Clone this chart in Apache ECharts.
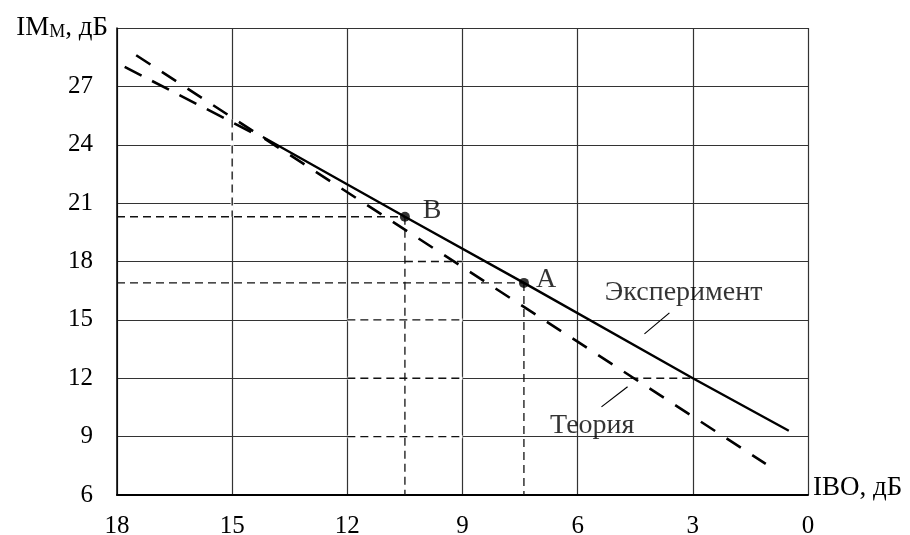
<!DOCTYPE html>
<html><head><meta charset="utf-8">
<script src="https://cdn.jsdelivr.net/npm/echarts/dist/echarts.min.js"></script>
<style>html,body{margin:0;padding:0;background:#fff}#c{width:910px;height:535px}</style>
</head><body><div id="c"></div>
<script>
// ---- data ----
const xTicks = [18, 15, 12, 9, 6, 3, 0];
const yTicks = [6, 9, 12, 15, 18, 21, 24, 27];
const experimentX = [14.2, 10.5, 7.4, 3.0, 0.5];
const experimentY = [24.4, 20.3, 16.9, 12.0, 9.3];
const experimentExtX = [17.8, 14.5];
const experimentExtY = [28.0, 24.65];
const theoryX = [17.5, 1.1];
const theoryY = [28.6, 7.6];
const pointNames = ['A', 'B'];
const pointX = [7.4, 10.5];
const pointY = [16.9, 20.3];
// dashed guide segments on the grid: [x1, y1, x2, y2]
const gridDashX1 = [10.5, 12, 12, 4.63, 12, 15];
const gridDashY1 = [18, 15, 12, 12, 9, 25.3];
const gridDashX2 = [9, 9, 9, 3, 9, 15];
const gridDashY2 = [18, 15, 12, 12, 9, 20.3];
// annotation texts and their anchors (data units)
const noteTexts = ['Эксперимент', 'Теория', 'A', 'B'];
const noteX = [3.24, 5.62, 6.82, 9.79];
const noteY = [16.39, 9.55, 17.06, 20.61];
// leader lines [x1,y1,x2,y2]
const leaderX1 = [3.61, 4.70];
const leaderY1 = [15.36, 11.56];
const leaderX2 = [4.26, 5.38];
const leaderY2 = [14.28, 10.53];

// ---- build ----
const FONT = 'Liberation Serif';
const zip = (xs, ys) => xs.map((x, i) => [x, ys[i]]);
const series = [];
const gridSegs = gridDashX1.map((x, i) => [[x, gridDashY1[i]], [gridDashX2[i], gridDashY2[i]]]);
// projection segments from the points A and B
const projSegs = [];
pointX.forEach((x, i) => {
  projSegs.push([[18, pointY[i]], [x, pointY[i]]]);
  projSegs.push([[x, pointY[i]], [x, 6]]);
});
// erase the solid grid under the dashed grid segments
gridSegs.forEach(seg => series.push({
  type: 'line', data: seg, showSymbol: false, silent: true, animation: false,
  lineStyle: { color: '#fff', width: 3 }, z: 2
}));
gridSegs.concat(projSegs).forEach(seg => series.push({
  type: 'line', data: seg, showSymbol: false, silent: true, animation: false,
  lineStyle: { color: '#111', width: 1.3, type: [8, 5] }, z: 3
}));
series.push({
  name: 'Теория', type: 'line', data: zip(theoryX, theoryY), showSymbol: false, animation: false,
  lineStyle: { color: '#000', width: 2.6, type: [17, 13.6] }, z: 4
});
series.push({
  type: 'line', data: zip(experimentExtX, experimentExtY), showSymbol: false, animation: false,
  lineStyle: { color: '#000', width: 2.6, type: [19, 11.8] }, z: 4
});
series.push({
  name: 'Эксперимент', type: 'line', data: zip(experimentX, experimentY), showSymbol: false, animation: false,
  lineStyle: { color: '#000', width: 2.4 }, z: 4
});
leaderX1.forEach((x, i) => series.push({
  type: 'line', data: [[x, leaderY1[i]], [leaderX2[i], leaderY2[i]]], showSymbol: false, animation: false,
  lineStyle: { color: '#000', width: 1.2 }, z: 4
}));
series.push({
  type: 'scatter', data: zip(pointX, pointY), symbolSize: 10, animation: false,
  itemStyle: { color: '#000' }, z: 5
});
series.push({
  type: 'scatter', animation: false, symbolSize: 1, itemStyle: { color: 'rgba(0,0,0,0)' }, z: 5,
  data: noteTexts.map((t, i) => ({ value: [noteX[i], noteY[i]], name: t })),
  label: {
    show: true, position: 'inside', formatter: p => p.name,
    fontFamily: FONT, fontSize: 28, color: '#000'
  }
});

const chart = echarts.init(document.getElementById('c'), null, { renderer: 'canvas' });
chart.setOption({
  backgroundColor: '#fff',
  animation: false,
  grid: { left: 117, right: 102, top: 28, bottom: 40, containLabel: false, outerBoundsMode: 'none' },
  xAxis: {
    type: 'value', inverse: true, min: 0, max: 18, interval: 3,
    axisTick: { show: false },
    axisLine: { show: true, onZero: false, lineStyle: { color: '#000', width: 2 } },
    splitLine: { show: true, lineStyle: { color: '#333', width: 1.2 } },
    axisLabel: {
      fontFamily: FONT, fontSize: 25, color: '#000', margin: 19,
      formatter: v => xTicks.includes(v) ? String(v) : ''
    },
    name: 'IBO, дБ', nameLocation: 'start', nameGap: 5,
    nameTextStyle: { fontFamily: FONT, fontSize: 27, lineHeight: 14, color: '#000', align: 'left', verticalAlign: 'bottom' }
  },
  yAxis: {
    type: 'value', min: 6, max: 30, interval: 3,
    axisTick: { show: false },
    axisLine: { show: true, onZero: false, lineStyle: { color: '#000', width: 1.5 } },
    splitLine: { show: true, lineStyle: { color: '#333', width: 1.2 } },
    axisLabel: {
      fontFamily: FONT, fontSize: 25, color: '#000', margin: 24,
      formatter: v => yTicks.includes(v) ? String(v) : ''
    },
    name: '{a|IM}{s|М}{a|, дБ}', nameLocation: 'end', nameGap: 0,
    nameTextStyle: {
      align: 'right', verticalAlign: 'middle', padding: [0, 9, 0, 0],
      rich: {
        a: { fontFamily: FONT, fontSize: 27, color: '#000' },
        s: { fontFamily: FONT, fontSize: 18, color: '#000', padding: [9, 0, 0, 0] }
      }
    }
  },
  series: series
});
</script>
</body></html>
